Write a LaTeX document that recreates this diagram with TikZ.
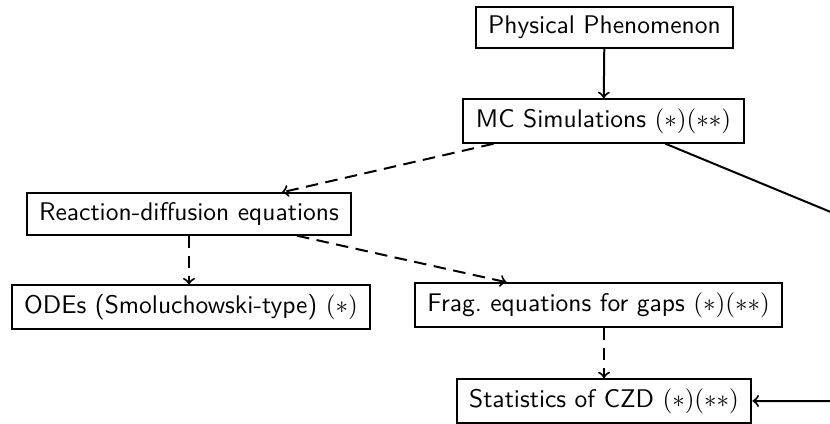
\documentclass[tikz,border=0pt]{standalone}
\usepackage{amsmath}

\tikzset{
    box/.style={draw, thick, font=\fontsize{10.2}{12.2}\selectfont\sffamily, inner xsep=5pt, inner ysep=3.7pt},
    link/.style={thick, ->},
    dlink/.style={thick, ->, dash pattern=on 5pt off 3pt}
}

\begin{document}
\begin{tikzpicture}[x=0.4pt,y=-0.4pt]
    \useasboundingbox (0,0) rectangle (830,424);
    \node[anchor=base west, inner sep=0, font=\sffamily] (tag) at (11,-6) {(a)};
    \node[box] (phys) at (604.5,27.5) {Physical Phenomenon};
    \node[box] (mc) at (603.5,121) {MC Simulations $(*)(**)$};
    \node[box] (react) at (189,214) {Reaction-diffusion equations};
    \node[box] (ode) at (191,307.5) {ODEs (Smoluchowski-type) $(*)$};
    \node[box] (frag) at (598.5,305) {Frag.\ equations for gaps $(*)(**)$};
    \node[box] (stats) at (604,401) {Statistics of CZD $(*)(**)$};
    \coordinate (corner) at (850,220);
    \draw[link] (phys) -- (mc);
    \draw[dlink] ([xshift=-110*0.4pt]mc.south) -- ([xshift=93*0.4pt]react.north);
    \draw[dlink] (react) -- (react |- ode.north);
    \draw[dlink] ([xshift=108*0.4pt]react.south) -- ([xshift=-92*0.4pt]frag.north);
    \draw[dlink] (stats.north |- frag.south) -- (stats.north);
    \draw[link] ([xshift=62*0.4pt]mc.south) -- (corner) |- (stats.east);
\end{tikzpicture}
\end{document}
